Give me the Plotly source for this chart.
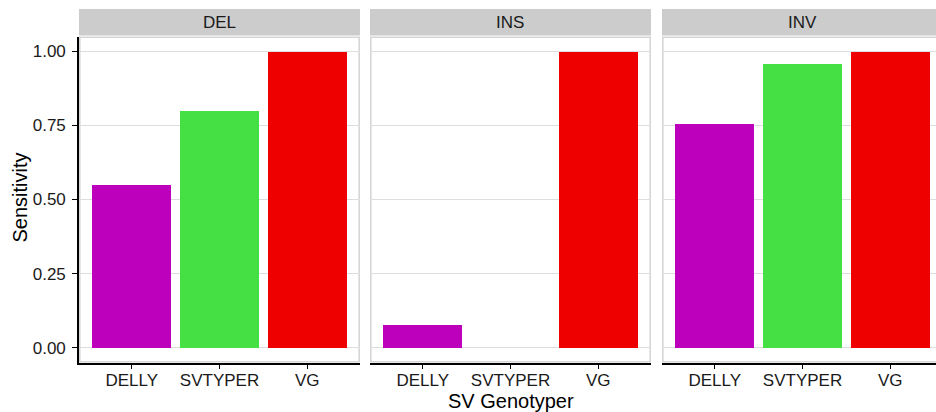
import plotly.graph_objects as go

# Sensitivity of each genotyper, faceted by SV type
genotypers = ["DELLY", "SVTYPER", "VG"]
sv_types = ["DEL", "INS", "INV"]
del_sensitivity = [0.55, 0.80, 1.00]
ins_sensitivity = [0.077, 0.0, 1.00]
inv_sensitivity = [0.757, 0.96, 1.00]
genotyper_colors = ["#BC00BC", "#44E044", "#EE0000"]
y_ticks = [0.0, 0.25, 0.5, 0.75, 1.0]
y_tick_labels = ["0.00", "0.25", "0.50", "0.75", "1.00"]

W, H = 936, 412
FONT = "Liberation Sans, Arial, Helvetica, sans-serif"
TEXT = "#1A1A1A"
GRID = "#DEDEDE"
BORDER = "#D6D6D6"

# panel geometry in pixels
panel_left = [79, 370, 662]
panel_w = 281
panel_top, panel_bottom = 36.5, 362.5
strip_top, strip_bottom = 9, 35.5
unit_px = panel_w / 3.2  # discrete axis spans 3 categories + 0.6 padding each side

fig = go.Figure()
series = [del_sensitivity, ins_sensitivity, inv_sensitivity]
for i, (sv, vals) in enumerate(zip(sv_types, series)):
    n = "" if i == 0 else str(i + 1)
    fig.add_trace(go.Bar(
        x=genotypers, y=vals, width=0.9,
        marker=dict(color=genotyper_colors, line=dict(width=0)),
        xaxis="x" + n, yaxis="y" + n, name=sv, showlegend=False,
        hovertemplate="%{x}: %{y:.2f}<extra>" + sv + "</extra>",
    ))

shapes = []
annotations = []
layout = {}
ydom = [1 - panel_bottom / H, 1 - panel_top / H]
for i, sv in enumerate(sv_types):
    n = "" if i == 0 else str(i + 1)
    x0 = panel_left[i]
    x1 = min(x0 + panel_w, W)
    xmax = -0.6 + (x1 - x0) / unit_px
    layout["xaxis" + n] = dict(
        domain=[x0 / W, x1 / W], anchor="y" + n,
        type="category", categoryorder="array", categoryarray=genotypers,
        range=[-0.6, xmax], showgrid=False, zeroline=False,
        showline=True, linecolor="black", linewidth=1.6,
        ticks="outside", ticklen=5, tickwidth=1.4, tickcolor="black",
        tickfont=dict(family=FONT, size=17, color=TEXT),
        ticklabelstandoff=-4, fixedrange=True,
    )
    layout["yaxis" + n] = dict(
        domain=ydom, anchor="x" + n, range=[-0.05, 1.05],
        tickvals=y_ticks, ticktext=y_tick_labels,
        showgrid=True, gridcolor=GRID, gridwidth=1.4, zeroline=False,
        showline=(i == 0), linecolor="black", linewidth=1.6,
        ticks="outside" if i == 0 else "", ticklen=5, tickwidth=1.4,
        tickcolor="black", showticklabels=(i == 0),
        tickfont=dict(family=FONT, size=17, color=TEXT),
        ticklabelstandoff=3, fixedrange=True,
    )
    # panel border
    shapes.append(dict(
        type="rect", xref="paper", yref="paper", layer="below",
        x0=(x0 + 0.8) / W, x1=(x0 + panel_w - 0.8) / W,
        y0=1 - (panel_bottom - 0.8) / H, y1=1 - (panel_top + 0.8) / H,
        line=dict(color=BORDER, width=1.6), fillcolor="rgba(0,0,0,0)",
    ))
    # facet strip
    shapes.append(dict(
        type="rect", xref="paper", yref="paper", layer="below",
        x0=x0 / W, x1=(x0 + panel_w) / W,
        y0=1 - strip_bottom / H, y1=1 - strip_top / H,
        line=dict(width=0), fillcolor="#CCCCCC",
    ))
    annotations.append(dict(
        text=sv, xref="paper", yref="paper", showarrow=False,
        x=(x0 + panel_w / 2) / W, y=1 - (strip_top + strip_bottom) / 2 / H,
        xanchor="center", yanchor="middle",
        font=dict(family=FONT, size=17, color=TEXT),
    ))

annotations.append(dict(
    text="SV Genotyper", xref="paper", yref="paper", showarrow=False,
    x=511 / W, y=1 - 400.5 / H, xanchor="center", yanchor="middle",
    font=dict(family=FONT, size=20, color="black"),
))
annotations.append(dict(
    text="Sensitivity", xref="paper", yref="paper", showarrow=False,
    x=19.5 / W, y=1 - 198 / H, xanchor="center", yanchor="middle",
    textangle=-90, font=dict(family=FONT, size=20, color="black"),
))

fig.update_layout(
    width=W, height=H, margin=dict(l=0, r=0, t=0, b=0),
    paper_bgcolor="white", plot_bgcolor="white",
    shapes=shapes, annotations=annotations, bargap=0,
    **layout,
)

fig.write_html("out.html", config={"displayModeBar": False})
